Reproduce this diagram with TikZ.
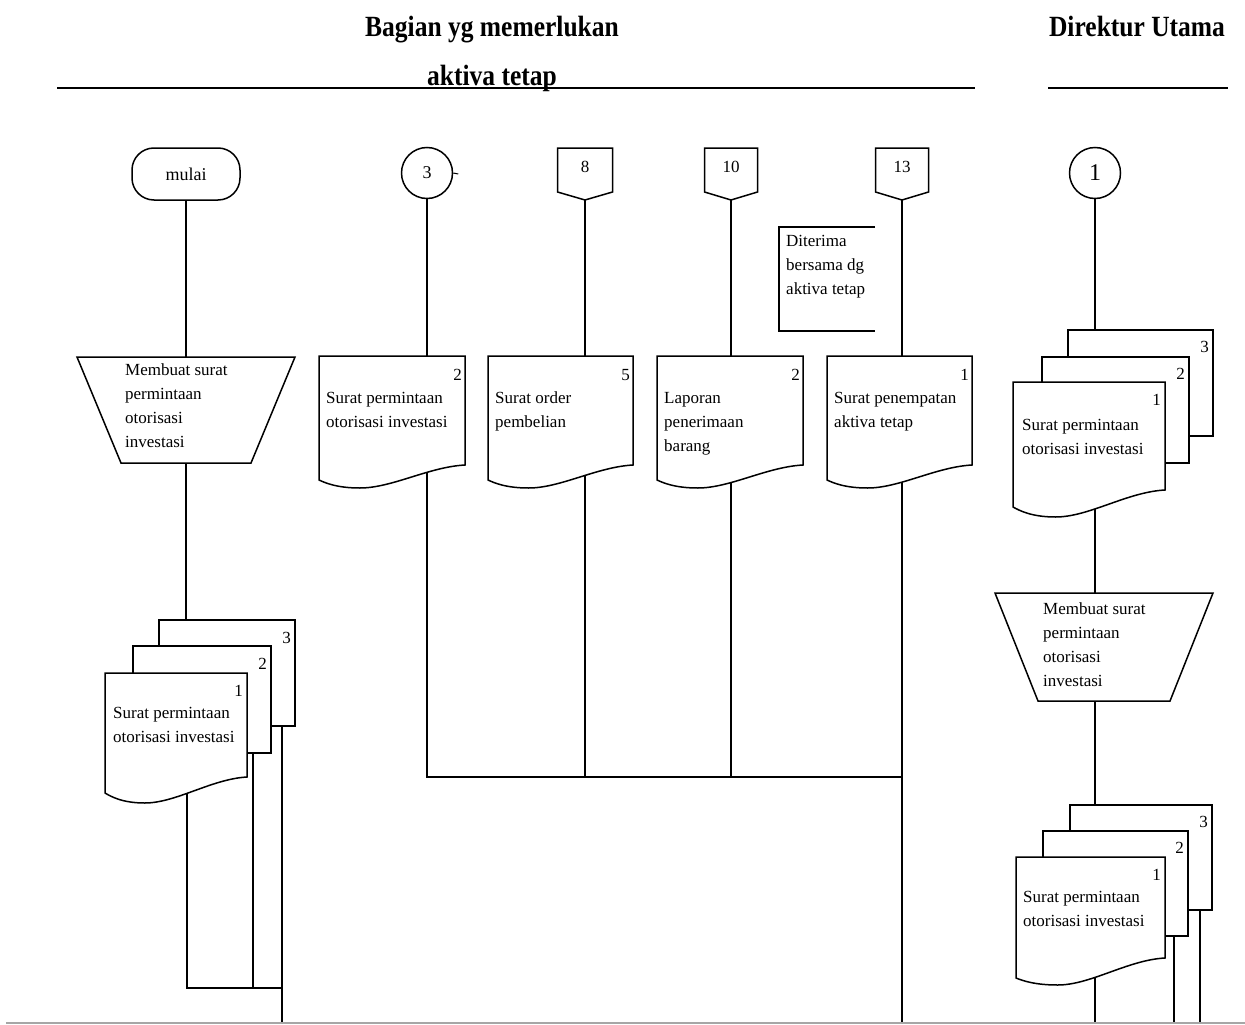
\documentclass[tikz,border=0pt]{standalone}
\usepackage{fontspec}
\setmainfont{Liberation Serif}
\usetikzlibrary{calc}
\tikzset{
  spot/.style={inner sep=0pt, outer sep=0pt, draw=none, anchor=north west},
  outl/.style={draw=black, fill=white, line width=1.5pt, line join=miter},
  conn/.style={draw=black, line width=1.7pt},
  txt/.style={font=\fontsize{17}{24}\selectfont, align=left, inner sep=0pt, anchor=north west},
  num/.style={font=\fontsize{17}{20}\selectfont, inner sep=0pt, anchor=north east},
  hdr/.style={font=\fontsize{25.5}{30}\selectfont\bfseries, inner sep=0pt, anchor=base},
  term/.style={draw, fill=white, line width=1.5pt, rounded corners=22pt, minimum width=108pt, minimum height=52pt, inner sep=0pt, font=\fontsize{18}{22}\selectfont},
  circ/.style={circle, draw, fill=white, line width=1.5pt, minimum size=51pt, inner sep=0pt, font=\fontsize{18}{20}\selectfont},
}
\newcommand\docwave[3]{%
  \draw[outl] (#1.north west) -- (#1.north east) -- ($(#1.south east)+(0,-#2)$)
    .. controls ($(#1.south west)!0.75!(#1.south east)+(0,-#2+2)$) and ($(#1.south west)!0.5!(#1.south east)+(0,#3)$)
    .. ($(#1.south west)!0.28!(#1.south east)+(0,#3)$)
    .. controls ($(#1.south west)!0.12!(#1.south east)+(0,#3)$) and ($(#1.south west)!0.04!(#1.south east)+(0,#3/3)$)
    .. (#1.south west) -- cycle;}
\newcommand\manualop[2]{%
  \draw[outl] (#1.north west) -- (#1.north east) -- ($(#1.south east)+(-#2,0)$) -- ($(#1.south west)+(#2,0)$) -- cycle;}
\newcommand\offpage[1]{%
  \draw[outl] (#1.north west) -- (#1.north east) -- ($(#1.south east)+(0,-8)$) -- (#1.south) -- ($(#1.south west)+(0,-8)$) -- cycle;}
\begin{document}
\begin{tikzpicture}[x=1pt,y=-1pt]
\useasboundingbox (0,0) rectangle (1245,1025);
% headers
\node[hdr] (h1) at (492,37) {\scalebox{1}[1.15]{Bagian yg memerlukan}};
\node[hdr] (h2) at (492,85) {\scalebox{1}[1.15]{aktiva tetap}};
\node[hdr] (h3) at (1137,37) {\scalebox{1}[1.15]{Direktur Utama}};
\coordinate (lane1a) at (57,88); \coordinate (lane1b) at (975,88);
\coordinate (lane2a) at (1048,88); \coordinate (lane2b) at (1228,88);
\draw[line width=2.2pt] (lane1a) -- (lane1b);
\draw[line width=2.2pt] (lane2a) -- (lane2b);
\coordinate (fa) at (6,1023); \coordinate (fb) at (1245,1023);
\draw[gray!70, line width=2pt] (fa) -- (fb);

% ---------- left column positions
\node[term] (mulai) at (186,174) {mulai};
\node[spot, anchor=center, minimum width=218pt, minimum height=106pt] (trapL) at (186,410) {};
\node[spot, minimum width=136pt, minimum height=106pt] (L3) at (159,620) {};
\node[spot, minimum width=138pt, minimum height=107pt] (L2) at (133,646) {};
\node[spot, minimum width=142pt, minimum height=120pt] (L1) at (105,673) {};
\coordinate (jL) at (187,988);
\coordinate (oL2) at (253,988);
\coordinate (oL3) at (282,1022);

% ---------- middle positions
\node[circ] (c3) at (427,173) {3};
\node[spot, anchor=center, minimum width=55pt, minimum height=52pt] (p8) at (585,174) {};
\node[spot, anchor=center, minimum width=53pt, minimum height=52pt] (p10) at (731,174) {};
\node[spot, anchor=center, minimum width=53pt, minimum height=52pt] (p13) at (902,174) {};
\node[spot, minimum width=96pt, minimum height=104pt] (note) at (779,227) {};
\node[spot, minimum width=146pt, minimum height=124pt] (dA) at (319,356) {};
\node[spot, minimum width=145pt, minimum height=124pt] (dB) at (488,356) {};
\node[spot, minimum width=146pt, minimum height=124pt] (dC) at (657,356) {};
\node[spot, minimum width=145pt, minimum height=124pt] (dD) at (827,356) {};
\coordinate (jM) at (0,777);
\coordinate (eM) at (0,1022);

% ---------- right positions
\node[circ, font=\fontsize{24}{26}\selectfont] (c1) at (1095,173) {1};
\node[spot, minimum width=145pt, minimum height=106pt] (R3) at (1068,330) {};
\node[spot, minimum width=147pt, minimum height=106pt] (R2) at (1042,357) {};
\node[spot, minimum width=152pt, minimum height=125pt] (R1) at (1013,382) {};
\node[spot, anchor=center, minimum width=218pt, minimum height=108pt] (trapR) at (1104,647) {};
\node[spot, minimum width=142pt, minimum height=105pt] (S3) at (1070,805) {};
\node[spot, minimum width=145pt, minimum height=105pt] (S2) at (1043,831) {};
\node[spot, minimum width=149pt, minimum height=121pt] (S1) at (1016,857) {};
\coordinate (eR) at (0,1022);
\coordinate (oS2) at (1174,1022);
\coordinate (oS3) at (1200,1022);

% ---------- connectors
\draw[conn] (mulai.south) -- (mulai.south |- trapL.north);
\draw[conn] (trapL.south) -- (trapL.south |- L3.north);
\draw[conn] (L1.center -| jL) -- (jL) -- (jL -| oL3);
\draw[conn] (L2.center -| oL2) -- (oL2);
\draw[conn] (L3.center -| oL3) -- (oL3);

\draw[conn] (c3.south) -- (c3.south |- dA.north);
\draw[conn] (p8.south) -- (p8.south |- dB.north);
\draw[conn] (p10.south) -- (p10.south |- dC.north);
\draw[conn] (p13.south) -- (p13.south |- dD.north);
\draw[conn] (c3.south |- dA.center) -- (c3.south |- jM) -- (p13.south |- jM);
\draw[conn] (p8.south |- dB.center) -- (p8.south |- jM);
\draw[conn] (p10.south |- dC.center) -- (p10.south |- jM);
\draw[conn] (p13.south |- dD.center) -- (p13.south |- eM);
\draw[line width=1pt] (c3.east) -- ++(5,1);

\draw[conn] (c1.south) -- (c1.south |- R3.north);
\draw[conn] (c1.south |- R1.center) -- (c1.south |- trapR.north);
\draw[conn] (c1.south |- trapR.south) -- (c1.south |- S3.north);
\draw[conn] (c1.south |- S1.center) -- (c1.south |- eR);
\draw[conn] (S2.center -| oS2) -- (oS2);
\draw[conn] (S3.center -| oS3) -- (oS3);

% ---------- outlines
\manualop{trapL}{44}
\draw[outl] (L3.north west) rectangle (L3.south east);
\draw[outl] (L2.north west) rectangle (L2.south east);
\docwave{L1}{16}{10}

\offpage{p8}
\offpage{p10}
\offpage{p13}
\draw[outl, fill=none] (note.north east) -- (note.north west) -- (note.south west) -- (note.south east);
\docwave{dA}{15}{8}
\docwave{dB}{15}{8}
\docwave{dC}{15}{8}
\docwave{dD}{15}{8}

\draw[outl] (R3.north west) rectangle (R3.south east);
\draw[outl] (R2.north west) rectangle (R2.south east);
\docwave{R1}{17}{10}
\manualop{trapR}{43}
\draw[outl] (S3.north west) rectangle (S3.south east);
\draw[outl] (S2.north west) rectangle (S2.south east);
\docwave{S1}{20}{7}

% ---------- texts
\node[txt] (trapLt) at ($(trapL.north west)+(48,7)$) {Membuat surat\\permintaan\\otorisasi\\investasi};
\node[num] (L3n) at ($(L3.north east)+(-4,12)$) {3};
\node[num] (L2n) at ($(L2.north east)+(-4,12)$) {2};
\node[num] (L1n) at ($(L1.north east)+(-4,12)$) {1};
\node[txt] (L1t) at ($(L1.north west)+(8,34)$) {Surat permintaan\\otorisasi investasi};

\node[font=\fontsize{17}{20}\selectfont, inner sep=0pt] (p8t) at ($(p8.center)+(0,-7)$) {8};
\node[font=\fontsize{17}{20}\selectfont, inner sep=0pt] (p10t) at ($(p10.center)+(0,-7)$) {10};
\node[font=\fontsize{17}{20}\selectfont, inner sep=0pt] (p13t) at ($(p13.center)+(0,-7)$) {13};
\node[txt] (notet) at ($(note.north west)+(7,8)$) {Diterima\\bersama dg\\aktiva tetap};

\node[num] (dAn) at ($(dA.north east)+(-3,13)$) {2};
\node[txt] (dAt) at ($(dA.north west)+(7,36)$) {Surat permintaan\\otorisasi investasi};
\node[num] (dBn) at ($(dB.north east)+(-3,13)$) {5};
\node[txt] (dBt) at ($(dB.north west)+(7,36)$) {Surat order\\pembelian};
\node[num] (dCn) at ($(dC.north east)+(-3,13)$) {2};
\node[txt] (dCt) at ($(dC.north west)+(7,36)$) {Laporan\\penerimaan\\barang};
\node[num] (dDn) at ($(dD.north east)+(-3,13)$) {1};
\node[txt] (dDt) at ($(dD.north west)+(7,36)$) {Surat penempatan\\aktiva tetap};

\node[num] (R3n) at ($(R3.north east)+(-4,11)$) {3};
\node[num] (R2n) at ($(R2.north east)+(-4,11)$) {2};
\node[num] (R1n) at ($(R1.north east)+(-4,12)$) {1};
\node[txt] (R1t) at ($(R1.north west)+(9,37)$) {Surat permintaan\\otorisasi investasi};
\node[txt] (trapRt) at ($(trapR.north west)+(48,9)$) {Membuat surat\\permintaan\\otorisasi\\investasi};
\node[num] (S3n) at ($(S3.north east)+(-4,11)$) {3};
\node[num] (S2n) at ($(S2.north east)+(-4,11)$) {2};
\node[num] (S1n) at ($(S1.north east)+(-4,12)$) {1};
\node[txt] (S1t) at ($(S1.north west)+(7,34)$) {Surat permintaan\\otorisasi investasi};
\end{tikzpicture}
\end{document}
